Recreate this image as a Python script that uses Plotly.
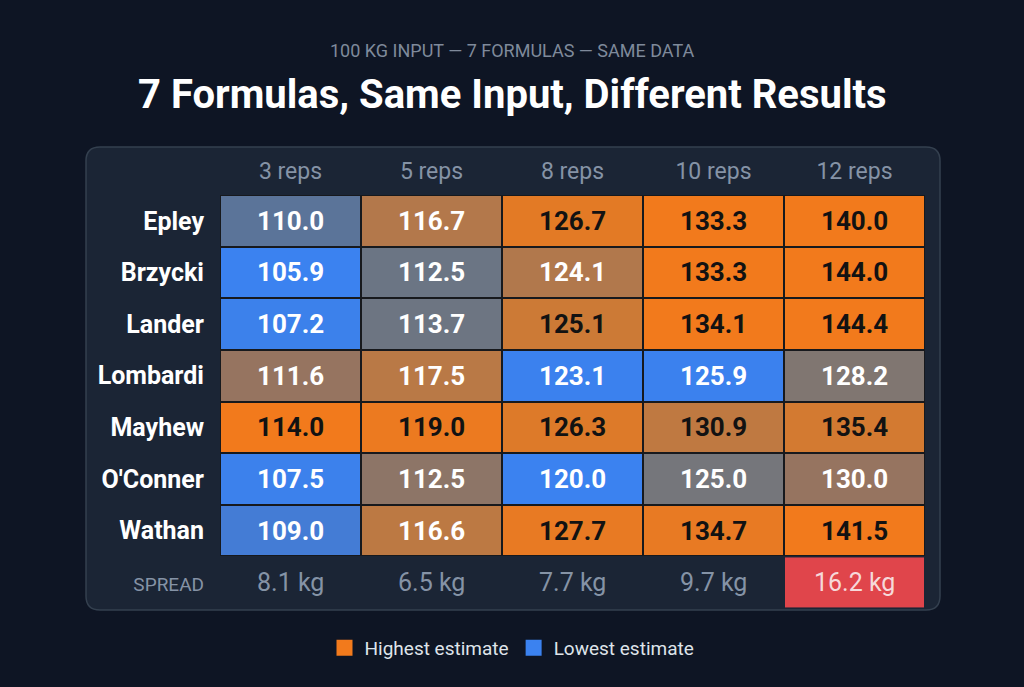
import plotly.graph_objects as go

FORMULAS = ['Epley', 'Brzycki', 'Lander', 'Lombardi', 'Mayhew', "O'Conner", 'Wathan']
REPS = ['3 reps', '5 reps', '8 reps', '10 reps', '12 reps']

# 1RM estimates for a 100 kg lift, one row per formula
ESTIMATES = [
    [110.0, 116.7, 126.7, 133.3, 140.0],
    [105.9, 112.5, 124.1, 133.3, 144.0],
    [107.2, 113.7, 125.1, 134.1, 144.4],
    [111.6, 117.5, 123.1, 125.9, 128.2],
    [114.0, 119.0, 126.3, 130.9, 135.4],
    [107.5, 112.5, 120.0, 125.0, 130.0],
    [109.0, 116.6, 127.7, 134.7, 141.5],
]

# cell heat (0 = lowest/blue, 1 = highest/orange)
SHADES = [
    [0.32, 0.75, 0.93, 1.00, 1.00],
    [0.00, 0.42, 0.74, 1.00, 1.00],
    [0.05, 0.43, 0.84, 1.00, 1.00],
    [0.62, 0.78, 0.02, 0.02, 0.52],
    [1.00, 0.97, 0.90, 0.80, 0.86],
    [0.04, 0.58, 0.00, 0.47, 0.62],
    [0.15, 0.79, 0.95, 0.95, 1.00],
]

SPREAD = [8.1, 6.5, 7.7, 9.7, 16.2]

TITLE = '7 Formulas, Same Input, Different Results'
SUBTITLE = '100 KG INPUT \u2014 7 FORMULAS \u2014 SAME DATA'

BG = '#0e1524'
PANEL = '#1b2535'
ORANGE = '#f27a1c'
BLUE = '#3b82f0'
GREY_TXT = '#8593a6'

W, H = 1024, 687
L, R, T, B = 220, 99, 195, 79

COLORSCALE = [
    [0.0, '#3b82f0'], [0.1, '#3d7fe6'], [0.2, '#4a78c4'], [0.32, '#5b7499'],
    [0.42, '#6b7584'], [0.5, '#7b7775'], [0.6, '#927463'], [0.7, '#a87652'],
    [0.78, '#b97946'], [0.88, '#d97a2c'], [1.0, ORANGE],
]


def px_x(p):
    return (p - L) / (W - L - R)


def px_y(p):
    return (H - B - p) / (H - T - B)


def rounded_rect(x0, y0, x1, y1, r):
    # pixel box -> paper path with rounded corners
    pts = []
    pts.append('M %f,%f' % (px_x(x0 + r), px_y(y0)))
    pts.append('L %f,%f' % (px_x(x1 - r), px_y(y0)))
    pts.append('Q %f,%f %f,%f' % (px_x(x1), px_y(y0), px_x(x1), px_y(y0 + r)))
    pts.append('L %f,%f' % (px_x(x1), px_y(y1 - r)))
    pts.append('Q %f,%f %f,%f' % (px_x(x1), px_y(y1), px_x(x1 - r), px_y(y1)))
    pts.append('L %f,%f' % (px_x(x0 + r), px_y(y1)))
    pts.append('Q %f,%f %f,%f' % (px_x(x0), px_y(y1), px_x(x0), px_y(y1 - r)))
    pts.append('L %f,%f' % (px_x(x0), px_y(y0 + r)))
    pts.append('Q %f,%f %f,%f' % (px_x(x0), px_y(y0), px_x(x0 + r), px_y(y0)))
    return ' '.join(pts) + ' Z'


n_rows = len(FORMULAS)
n_cols = len(REPS)
xs = list(range(n_cols))
ys = list(range(n_rows))

fig = go.Figure()

# dark layer underneath so the cell gaps read as thin dark borders
fig.add_trace(go.Heatmap(
    x=xs, y=ys, z=[[1] * n_cols for _ in ys],
    colorscale=[[0, '#17191d'], [1, '#17191d']],
    showscale=False, hoverinfo='skip',
))

fig.add_trace(go.Heatmap(
    x=xs, y=ys, z=SHADES, zmin=0, zmax=1,
    colorscale=COLORSCALE, xgap=2, ygap=2,
    showscale=False, hoverinfo='skip',
))

# highlight the widest spread
max_spread = max(SPREAD)
fig.add_trace(go.Heatmap(
    x=xs, y=[n_rows],
    z=[[1 if s == max_spread else None for s in SPREAD]],
    colorscale=[[0, '#e0454b'], [1, '#e0454b']],
    xgap=2, ygap=2, showscale=False, hoverinfo='skip',
))

annotations = [
    dict(text=SUBTITLE, xref='paper', yref='paper',
         x=px_x(512), y=px_y(50), yanchor='middle', showarrow=False,
         font=dict(size=18, color='#7f8a9b')),
    dict(text='<b>%s</b>' % TITLE, xref='paper', yref='paper',
         x=px_x(512), y=px_y(95), yanchor='middle', showarrow=False,
         font=dict(size=40, color='#ffffff')),
]

# cell values
for i, row in enumerate(ESTIMATES):
    for j, v in enumerate(row):
        annotations.append(dict(
            x=j, y=i, text='<b>%.1f</b>' % v, showarrow=False,
            font=dict(size=26, color='#121212' if SHADES[i][j] >= 0.8 else '#ffffff'),
        ))

# spread row
for j, s in enumerate(SPREAD):
    annotations.append(dict(
        x=j, y=n_rows, text='%.1f kg' % s, showarrow=False,
        font=dict(size=25, color='#f6d9da' if s == max_spread else GREY_TXT),
    ))

# legend entries
fig.add_trace(go.Scatter(
    x=[None], y=[None], mode='markers', name='Highest estimate',
    marker=dict(symbol='square', size=20, color=ORANGE),
))
fig.add_trace(go.Scatter(
    x=[None], y=[None], mode='markers', name='Lowest estimate',
    marker=dict(symbol='square', size=20, color=BLUE),
))

row_ticks = ['<b>%s</b>' % f for f in FORMULAS]
row_ticks.append('<span style="font-size:19px;color:%s">SPREAD</span>' % GREY_TXT)

fig.update_layout(
    width=W, height=H,
    margin=dict(l=L, r=R, t=T, b=B),
    paper_bgcolor=BG, plot_bgcolor='rgba(0,0,0,0)',
    font=dict(family='Roboto', color='#ffffff'),
    xaxis=dict(
        side='top', range=[-0.5, n_cols - 0.5],
        tickvals=xs, ticktext=REPS,
        tickfont=dict(size=23, color=GREY_TXT),
        ticks='outside', ticklen=6, tickcolor='rgba(0,0,0,0)',
        showgrid=False, zeroline=False, showline=False, fixedrange=True,
    ),
    yaxis=dict(
        range=[n_rows + 0.5, -0.5],
        tickvals=list(range(n_rows + 1)), ticktext=row_ticks,
        tickfont=dict(size=25, color='#ffffff'),
        ticks='outside', ticklen=10, tickcolor='rgba(0,0,0,0)',
        showgrid=False, zeroline=False, showline=False, fixedrange=True,
    ),
    shapes=[dict(
        type='path', xref='paper', yref='paper', layer='below',
        path=rounded_rect(86, 147, 940, 610, 14),
        fillcolor=PANEL, line=dict(color='#34404f', width=1.5),
    )],
    annotations=annotations,
    showlegend=True,
    legend=dict(
        orientation='h', x=px_x(512), xanchor='center',
        y=px_y(648), yanchor='middle',
        bgcolor='rgba(0,0,0,0)', font=dict(size=19, color='#dfe4ea'),
    ),
)

fig.write_html('out.html', config={'displayModeBar': False},
               post_script="document.body.style.margin='0';")
